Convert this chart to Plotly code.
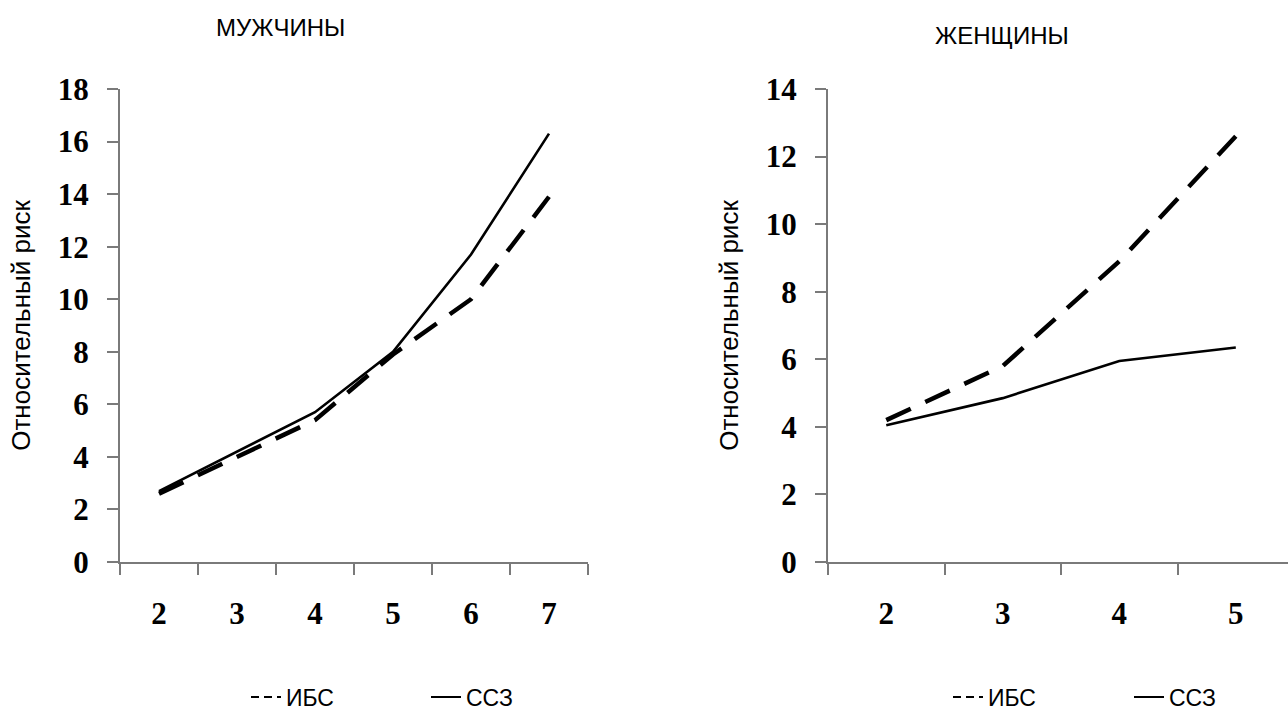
import plotly.graph_objects as go

# ---- data ----
men_x = ["2", "3", "4", "5", "6", "7"]
men_ibs = [2.6, 4.0, 5.4, 7.9, 10.0, 13.9]
men_ssz = [2.7, 4.2, 5.7, 8.0, 11.7, 16.3]

women_x = ["2", "3", "4", "5"]
women_ibs = [4.2, 5.8, 8.9, 12.6]
women_ssz = [4.05, 4.85, 5.95, 6.35]

names = ["ИБС", "ССЗ"]
titles = ["МУЖЧИНЫ", "ЖЕНЩИНЫ"]
y_title = "Относительный риск"

W, H = 1288, 711
ML, MR, MT, MB = 120, 0, 89, 149
PW = W - ML - MR
PH = H - MT - MB

def px_x(p):
    return (p - ML) / PW

def px_y(p):
    return (H - MB - p) / PH

AX_GREY = "#7a7a7a"
tick_font = dict(family="Liberation Serif", size=31, color="black", weight="bold")
sans = "Liberation Sans"

fig = go.Figure()

dash_ibs = "27px,16px"
ibs_line = dict(color="black", width=4.5, dash=dash_ibs)
ssz_line = dict(color="black", width=2.6)

# data traces
fig.add_trace(go.Scatter(x=men_x, y=men_ibs, name=names[0], mode="lines", line=ibs_line,
                         xaxis="x", yaxis="y", showlegend=False))
fig.add_trace(go.Scatter(x=men_x, y=men_ssz, name=names[1], mode="lines", line=ssz_line,
                         xaxis="x", yaxis="y", showlegend=False))
fig.add_trace(go.Scatter(x=women_x, y=women_ibs, name=names[0], mode="lines", line=ibs_line,
                         xaxis="x2", yaxis="y2", showlegend=False))
fig.add_trace(go.Scatter(x=women_x, y=women_ssz, name=names[1], mode="lines", line=ssz_line,
                         xaxis="x2", yaxis="y2", showlegend=False))

# legend entries (thin sample lines as in the reference key)
leg_ibs = dict(color="black", width=2, dash="8px,5px")
leg_ssz = dict(color="black", width=2)
for lg, xa, ya in [("legend", "x", "y"), ("legend2", "x2", "y2")]:
    fig.add_trace(go.Scatter(x=[None], y=[None], name=names[0], mode="lines", line=leg_ibs,
                             xaxis=xa, yaxis=ya, legend=lg))
    fig.add_trace(go.Scatter(x=[None], y=[None], name=names[1], mode="lines", line=leg_ssz,
                             xaxis=xa, yaxis=ya, legend=lg))

def xax(domain, cats, rng, anchor):
    return dict(domain=domain, type="category", categoryorder="array",
                categoryarray=cats, range=rng, anchor=anchor, automargin=False,
                tickson="boundaries", ticks="outside", ticklen=11, tickwidth=2,
                tickcolor=AX_GREY, showline=True, linecolor=AX_GREY, linewidth=2,
                showgrid=False, zeroline=False, tickfont=tick_font,
                ticklabelstandoff=23, fixedrange=True)

def yax(anchor, rng, standoff):
    return dict(domain=[0, 1], range=rng, dtick=2, anchor=anchor, automargin=False,
                ticks="outside", ticklen=11, tickwidth=2, tickcolor=AX_GREY,
                showline=True, linecolor=AX_GREY, linewidth=2,
                showgrid=False, zeroline=False, tickfont=tick_font,
                ticklabelstandoff=12,
                title=dict(text=y_title, font=dict(family=sans, size=26, color="black"),
                           standoff=standoff),
                fixedrange=True)

left_dom = [0, px_x(588)]
right_dom = [px_x(828), 1.0]

leg_font = dict(family=sans, size=23, color="black")

fig.update_layout(
    width=W, height=H,
    margin=dict(l=ML, r=MR, t=MT, b=MB, autoexpand=False),
    paper_bgcolor="white", plot_bgcolor="white",
    hovermode=False,
    xaxis=xax(left_dom, men_x, [-0.5, 5.5], "y"),
    yaxis=yax("x", [0, 18], 20),
    xaxis2=xax(right_dom, women_x, [-0.5, 3.448], "y2"),
    yaxis2=yax("x2", [0, 14], 20),
    legend=dict(orientation="h", x=px_x(246), y=px_y(697), xanchor="left", yanchor="middle",
                font=leg_font, entrywidth=135, entrywidthmode="pixels",
                bgcolor="rgba(0,0,0,0)"),
    legend2=dict(orientation="h", x=px_x(948), y=px_y(697), xanchor="left", yanchor="middle",
                 font=leg_font, entrywidth=136, entrywidthmode="pixels",
                 bgcolor="rgba(0,0,0,0)"),
    annotations=[
        dict(text=titles[0], x=px_x(280), y=px_y(27), xref="paper", yref="paper",
             showarrow=False, xanchor="center", yanchor="middle",
             font=dict(family=sans, size=24, color="black")),
        dict(text=titles[1], x=px_x(1002), y=px_y(35), xref="paper", yref="paper",
             showarrow=False, xanchor="center", yanchor="middle",
             font=dict(family=sans, size=24, color="black")),
    ],
)

fig.write_html("out.html", config={"displayModeBar": False})
